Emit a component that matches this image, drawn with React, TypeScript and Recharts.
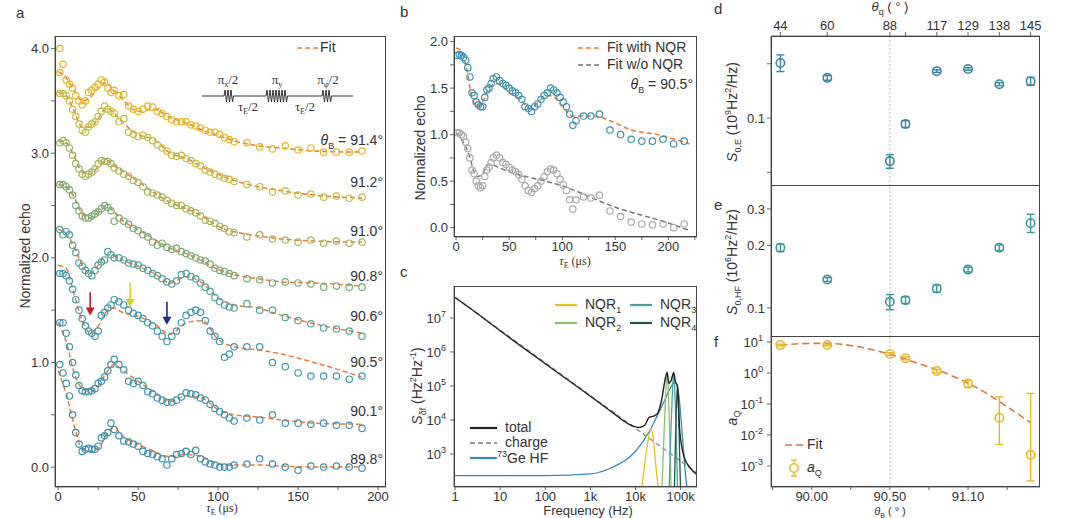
import React from 'react';
import { ComposedChart, Scatter, Line, XAxis, YAxis, ReferenceLine, ReferenceDot, ErrorBar } from 'recharts';

// ---------- Panel a ----------
const TA = [1,3,5,7,9,11,13,15,17,19,21,23,25,27,29,31,33,35,38,41,44,47,50,53,56,59,62,65,68,71,74,77,80,83,86,89,92,95,98,101,104,107,110,118,126,134,142,150,158,166,174,182,190];
const a914 = [3.77,3.85,3.7,3.66,3.62,3.55,3.5,3.46,3.5,3.58,3.6,3.63,3.66,3.7,3.68,3.62,3.58,3.6,3.55,3.56,3.45,3.42,3.4,3.42,3.45,3.44,3.4,3.38,3.35,3.32,3.3,3.3,3.3,3.27,3.26,3.24,3.22,3.2,3.2,3.18,3.15,3.13,3.11,3.1,3.06,3.04,3.07,3.03,3.05,3.01,3.01,3.01,3.02];
const a912 = [3.57,3.57,3.55,3.5,3.42,3.35,3.28,3.22,3.2,3.25,3.28,3.3,3.35,3.4,3.45,3.42,3.4,3.38,3.3,3.33,3.2,3.18,3.16,3.17,3.15,3.12,3.08,3.05,3.02,2.98,2.97,2.98,2.95,2.93,2.9,2.88,2.84,2.82,2.8,2.78,2.76,2.75,2.73,2.7,2.68,2.63,2.64,2.6,2.61,2.58,2.59,2.57,2.58];
const a910 = [3.1,3.12,3.1,3.05,2.98,2.9,2.85,2.8,2.78,2.8,2.82,2.85,2.9,2.93,2.92,2.92,2.9,2.86,2.83,2.8,2.78,2.74,2.72,2.68,2.63,2.62,2.6,2.58,2.55,2.52,2.5,2.5,2.47,2.45,2.43,2.4,2.36,2.35,2.33,2.3,2.28,2.25,2.24,2.2,2.22,2.18,2.17,2.15,2.17,2.14,2.16,2.14,2.15];
const a908 = [2.7,2.7,2.68,2.65,2.6,2.5,2.45,2.4,2.38,2.38,2.4,2.42,2.44,2.47,2.5,2.48,2.45,2.35,2.38,2.35,2.32,2.28,2.26,2.22,2.2,2.15,2.12,2.14,2.1,2.08,2.09,2.06,2.04,2.02,2.0,1.98,1.97,1.94,1.9,1.88,1.87,1.85,1.83,1.8,1.79,1.76,1.77,1.76,1.75,1.72,1.73,1.72,1.72];
const a906 = [2.27,2.22,2.25,2.22,2.12,2.05,1.95,1.92,1.88,1.85,1.83,1.88,1.93,1.96,1.98,2.06,2.03,2.0,2.0,1.98,1.95,1.94,1.93,1.9,1.88,1.85,1.83,1.8,1.77,1.75,1.78,1.84,1.85,1.82,1.8,1.76,1.72,1.68,1.62,1.58,1.55,1.53,1.52,1.56,1.5,1.5,1.43,1.4,1.37,1.33,1.32,1.3,1.25];
const a905 = [1.85,1.85,1.83,1.78,1.7,1.6,1.5,1.42,1.35,1.3,1.28,1.25,1.3,1.45,1.48,1.52,1.55,1.6,1.58,1.55,1.5,1.47,1.45,1.42,1.38,1.35,1.3,1.25,1.2,1.25,1.3,1.38,1.45,1.48,1.5,1.48,1.4,1.3,1.25,1.2,1.05,1.08,1.15,1.15,1.15,1.0,0.96,0.9,0.87,0.87,0.87,0.84,0.87];
const a901 = [1.38,1.38,1.28,1.15,1.0,0.88,0.78,0.73,0.72,0.72,0.73,0.75,0.8,0.82,0.86,0.92,0.98,1.03,0.98,0.93,0.82,0.8,0.82,0.78,0.72,0.7,0.66,0.64,0.62,0.62,0.64,0.67,0.71,0.7,0.69,0.66,0.64,0.6,0.56,0.53,0.5,0.47,0.44,0.47,0.45,0.5,0.42,0.42,0.41,0.42,0.4,0.4,0.37];
const a898 = [0.98,0.9,0.8,0.68,0.5,0.33,0.22,0.15,0.17,0.18,0.17,0.17,0.2,0.28,0.3,0.33,0.42,0.36,0.3,0.25,0.24,0.22,0.2,0.15,0.13,0.12,0.1,0.08,0.02,0.08,0.12,0.13,0.15,0.12,0.16,0.08,0.05,0.03,0.02,0.0,0.0,0.0,0.02,0.03,0.08,0.03,0.0,-0.03,0.01,0.0,0.01,0.0,-0.01];
const TF = [0,5,10,15,20,25,30,35,40,50,60,70,80,90,100,110,125,140,160,190];
const f914 = [3.78,3.72,3.6,3.5,3.53,3.62,3.67,3.6,3.52,3.4,3.42,3.34,3.29,3.22,3.17,3.12,3.07,3.05,3.02,3.01];
const f912 = [3.58,3.55,3.4,3.25,3.25,3.33,3.43,3.38,3.3,3.18,3.13,3.0,2.95,2.87,2.8,2.74,2.68,2.64,2.6,2.57];
const f910 = [3.12,3.1,2.97,2.82,2.8,2.87,2.93,2.88,2.83,2.73,2.62,2.53,2.47,2.4,2.3,2.25,2.21,2.18,2.16,2.15];
const f908 = [2.7,2.68,2.58,2.42,2.38,2.43,2.49,2.44,2.36,2.27,2.18,2.09,2.04,1.97,1.89,1.84,1.8,1.77,1.76,1.73];
const f906 = [2.27,2.23,2.1,1.93,1.85,1.93,2.03,2.02,1.98,1.92,1.85,1.76,1.82,1.76,1.62,1.55,1.52,1.45,1.37,1.28];
const f905 = [1.93,1.9,1.65,1.4,1.28,1.35,1.48,1.52,1.48,1.44,1.37,1.27,1.38,1.4,1.22,1.15,1.12,1.08,1.0,0.86];
const f901 = [1.38,1.2,0.9,0.75,0.72,0.78,0.9,0.98,0.93,0.82,0.72,0.63,0.68,0.66,0.55,0.5,0.48,0.45,0.42,0.41];
const f898 = [0.92,0.7,0.4,0.17,0.15,0.18,0.3,0.38,0.3,0.22,0.15,0.1,0.12,0.1,0.03,0.02,0.02,0.01,0.0,0.0];
const traceLabels = ['θB = 91.4°','91.2°','91.0°','90.8°','90.6°','90.5°','90.1°','89.8°'];
const traceColors = ['#e8b620','#c4bd42','#a2b75c','#7aab76','#4fa39c','#3f9ab0','#3d95b0','#3d92b0'];

// ---------- Panel b ----------
const TB = [1,3,5,7,9,11,13,15,17,19,21,23,25,27,29,31,33,35,38,41,44,47,50,53,56,59,62,65,68,71,74,77,80,83,86,89,92,95,98,101,104,107,110,113,120,127,135,145,155,165,175,185,195,205,215];
const bBlue = [1.85,1.86,1.85,1.83,1.8,1.72,1.62,1.45,1.42,1.35,1.32,1.3,1.3,1.4,1.48,1.5,1.55,1.6,1.62,1.58,1.55,1.53,1.5,1.47,1.45,1.42,1.38,1.3,1.28,1.25,1.3,1.33,1.38,1.42,1.45,1.5,1.48,1.45,1.4,1.35,1.3,1.22,1.1,1.15,1.2,1.2,1.22,1.05,1.0,0.95,0.93,0.93,0.95,0.9,0.93];
const bGray = [1.02,1.02,1.0,0.98,0.92,0.85,0.75,0.62,0.58,0.5,0.45,0.43,0.45,0.55,0.62,0.65,0.7,0.75,0.78,0.75,0.7,0.68,0.65,0.62,0.6,0.57,0.52,0.45,0.4,0.38,0.42,0.45,0.5,0.55,0.6,0.63,0.62,0.58,0.52,0.46,0.4,0.3,0.2,0.3,0.33,0.32,0.35,0.18,0.12,0.06,0.04,0.03,0.04,0.0,0.04];
const TBF = [0,5,10,15,20,25,30,38,50,60,70,80,90,100,110,120,130,145,165,190,220];
const bFitNQR = [1.93,1.9,1.7,1.4,1.3,1.35,1.48,1.55,1.45,1.38,1.28,1.38,1.42,1.3,1.2,1.2,1.2,1.15,1.05,1.0,0.9];
const TBG = [0,10,20,25,30,50,100,150,200,220];
const bFitNo = [1.02,0.85,0.55,0.58,0.68,0.6,0.45,0.22,0.05,-0.03];

// ---------- Panel c ----------
const cTotalF = [1,3,10,100,1000,3000,8000,12000,16000,20000,25000,30000,38000,45000,50000,55000,62000,70000,77000,85000,95000,120000,160000,230000];
const cTotalV = [4e7,1.4e7,4.2e6,4.5e5,5e4,1.7e4,7e3,6e3,7e3,1.2e4,1.3e4,1.5e4,4e4,1.5e5,2.5e5,1.2e5,1.5e5,2.5e5,1.3e5,1e5,5e3,800,400,250];
const cChargeF = [1,10,100,1000,10000,100000,230000];
const cChargeV = [4e7,4.4e6,4.8e5,5.2e4,5.7e3,620,280];
const cHfF = [1,100,1000,3000,10000,20000,30000,45000,60000,75000,90000,110000,130000,145000];
const cHfV = [230,232,260,400,1200,4500,1.3e4,4e4,9e4,1.3e5,6e4,3e3,200,60];
const nq1F = [13000,16000,19000,22000,25000,28000,33000];
const nq1V = [60,500,2500,5500,2500,500,60];
const nq2F = [38000,42000,46000,50000,54000,58000,62000];
const nq2V = [60,2000,4e4,2.5e5,4e4,2000,60];
const nq3F = [55000,60000,65000,70000,75000,80000,86000];
const nq3V = [60,3e3,5e4,2.5e5,5e4,3e3,60];
const nq4F = [72000,77000,81000,85000,89000,93000,100000];
const nq4V = [60,3e3,3e4,1e5,3e4,3e3,60];

// ---------- Panels d, e, f ----------
const thetaB = [89.8,90.1,90.5,90.6,90.8,91.0,91.2,91.4];
const thetaQ = ['44','60','88','','117','129','138','145'];
const sE = [0.202,0.167,0.0577,0.0926,0.182,0.187,0.154,0.16];
const sEerr = [[0.021,0.022],[0.005,0.005],[0.005,0.005],[0.004,0.004],[0.003,0.003],[0.003,0.003],[0.003,0.003],[0.008,0.008]];
const sHF = [0.195,0.137,0.107,0.109,0.124,0.153,0.195,0.256];
const sHFerr = [[0.008,0.008],[0.003,0.003],[0.009,0.009],[0.004,0.004],[0.005,0.005],[0.004,0.004],[0.006,0.006],[0.025,0.027]];
const aQ = [8,8,4.1,3.0,1.16,0.46,0.036,0.0023];
const aQerr = [[0.5,0.5],[0.5,0.5],[0.4,0.4],[0.3,0.3],[0.15,0.15],[0.12,0.12],[0.031,0.134],[0.00197,0.218]];
const fitB = [89.8,90.0,90.1,90.3,90.5,90.7,90.9,91.1,91.2,91.3,91.4];
const fitA = [8,9,9,7,4,1.9,0.8,0.25,0.12,0.055,0.025];

const pairs = (ts: number[], vs: number[]) => ts.map((t, i) => ({ t, v: vs[i] })).filter(d => d.v !== undefined);
const W = 1080, H = 518;
const FONT = '"Liberation Sans", Arial, sans-serif';
const SERIF = '"Liberation Serif", serif';
const ORANGE = '#f07a2a';
const tickStyle = { fontSize: 13, fill: '#333', fontFamily: FONT };

const ring = (color: string, r: number, sw = 1.2) => (p: any) =>
  p.cx == null ? <g /> : <circle cx={p.cx} cy={p.cy} r={r} fill="none" stroke={color} strokeWidth={sw} />;
const tri = (color: string) => (p: any) =>
  <path d={`M${p.cx - 4.5},${p.cy - 8} L${p.cx + 4.5},${p.cy - 8} L${p.cx},${p.cy} Z`} fill={color} />;

const PowTick = (p: any) => {
  const e = Math.round(Math.log10(p.payload.value));
  return (
    <text x={p.x - 2} y={p.y + 5} textAnchor="end" style={tickStyle}>
      10<tspan dy={-6} fontSize={9}>{e}</tspan>
    </text>
  );
};

const margin = (l: number, t: number, r: number, b: number, yw: number, xh: number, xTop = 0) =>
  ({ left: l - yw, top: t - xTop, right: W - r, bottom: H - b - xh });

const abs = (x: number, y: number, extra: any = {}) =>
  ({ position: 'absolute' as const, left: x, top: y, fontFamily: FONT, fontSize: 13, color: '#333', whiteSpace: 'nowrap' as const, ...extra });

const Frame = ({ l, t, r, b }: any) =>
  <div style={{ position: 'absolute', left: l, top: t, width: r - l, height: b - t, border: '1.3px solid #444', boxSizing: 'border-box' }} />;

const Layer = ({ children }: any) => <div style={{ position: 'absolute', left: 0, top: 0 }}>{children}</div>;

const VLabel = ({ x, y, children }: any) =>
  <div style={abs(x, y, { transform: 'translate(-50%,-50%) rotate(-90deg)', fontSize: 14 })}>{children}</div>;

const LegLine = ({ x, y, color, dash, w = 22, sw = 1.6 }: any) =>
  <svg style={{ position: 'absolute', left: x, top: y - 3 }} width={w} height={6}>
    <line x1={0} y1={3} x2={w} y2={3} stroke={color} strokeWidth={sw} strokeDasharray={dash} />
  </svg>;

export default function App() {
  const aSeries = [a914, a912, a910, a908, a906, a905, a901, a898];
  const aFits = [f914, f912, f910, f908, f906, f905, f901, f898];
  const labelY = [141, 183, 232, 277, 317, 363, 412, 460];
  const dPts = thetaB.map((x, i) => ({ t: x, v: sE[i], e: sEerr[i] }));
  const ePts = thetaB.map((x, i) => ({ t: x, v: sHF[i], e: sHFerr[i] }));
  const fPts = thetaB.map((x, i) => ({ t: x, v: aQ[i], e: aQerr[i] }));
  const wig = (n: number) => 'l1,-6 ' + 'l1.5,12 l1.5,-12 '.repeat(n) + 'l1.5,12 l1,-6';
  return (
    <div style={{ position: 'absolute', left: 0, top: 0, width: W, height: H, background: '#fff', overflow: 'hidden', fontFamily: FONT }}>
      {/* ---- a ---- */}
      <Layer>
        <ComposedChart width={W} height={H} margin={margin(55, 36, 386, 487, 40, 16)}>
          <XAxis dataKey="t" type="number" domain={[-2, 205]} ticks={[0, 25, 50, 75, 100, 125, 150, 175, 200]}
            tickFormatter={(v: number) => (v % 50 === 0 ? String(v) : '')} tick={tickStyle} tickSize={3} height={16} allowDataOverflow />
          <YAxis type="number" domain={[-0.19, 4.12]} ticks={[0, 0.5, 1, 1.5, 2, 2.5, 3, 3.5, 4]}
            tickFormatter={(v: number) => (Number.isInteger(v) ? v.toFixed(1) : '')} tick={tickStyle} tickSize={4} width={40} allowDataOverflow />
          {aFits.map((f, i) => (
            <Line key={'f' + i} data={pairs(TF, f)} dataKey="v" type="monotone" stroke={ORANGE} strokeWidth={1.5}
              strokeDasharray="5 3" dot={false} isAnimationActive={false} />
          ))}
          {aSeries.map((s, i) => (
            <Scatter key={'s' + i} data={pairs(TA, s)} dataKey="v" shape={ring(traceColors[i], 3.2)} isAnimationActive={false} />
          ))}
          <Scatter data={[{ t: 1, v: 4.0 }]} dataKey="v" shape={ring(traceColors[0], 3.2)} isAnimationActive={false} />
          <ReferenceLine segment={[{ x: 20, y: 1.67 }, { x: 20, y: 1.5 }]} stroke="#c0202a" strokeWidth={1.6} />
          <ReferenceDot x={20} y={1.45} shape={tri('#c0202a')} />
          <ReferenceLine segment={[{ x: 45, y: 1.76 }, { x: 45, y: 1.58 }]} stroke="#d8d020" strokeWidth={1.6} />
          <ReferenceDot x={45} y={1.53} shape={tri('#d8d020')} />
          <ReferenceLine segment={[{ x: 68, y: 1.58 }, { x: 68, y: 1.41 }]} stroke="#1a2a8a" strokeWidth={1.6} />
          <ReferenceDot x={68} y={1.36} shape={tri('#1a2a8a')} />
        </ComposedChart>
      </Layer>
      <Frame l={55} t={36} r={386} b={487} />
      <div style={abs(16, 4, { fontSize: 15 })}>a</div>
      <VLabel x={25} y={256}>Normalized echo</VLabel>
      <div style={abs(222, 502, { transform: 'translateX(-50%)', fontFamily: SERIF, fontSize: 12, lineHeight: '13px' })}>
        <i>τ</i><sub style={{ fontSize: 8 }}>E</sub> (μs)
      </div>
      <LegLine x={297} y={48} color={ORANGE} dash="5 3" w={26} />
      <div style={abs(320, 39, { fontSize: 14 })}>Fit</div>
      {traceLabels.map((t, i) => (
        <div key={t} style={abs(383, labelY[i] - 9, { transform: 'translateX(-100%)', fontSize: 14 })}>
          {i === 0 ? <span><i>θ</i><sub style={{ fontSize: 9 }}>B</sub> = 91.4°</span> : t}
        </div>
      ))}
      <svg style={{ position: 'absolute', left: 0, top: 0 }} width={W} height={H}>
        <path d={`M202,96 H224 ${wig(2)} H266 ${wig(6)} H322 ${wig(2)} H353`} fill="none" stroke="#333" strokeWidth={1} />
        <g fontFamily={SERIF} fontSize={13} fill="#333">
          <text x={228} y={84} textAnchor="middle">π<tspan fontSize={8} dy={3}>x</tspan><tspan dy={-3}>/2</tspan></text>
          <text x={277} y={84} textAnchor="middle">π<tspan fontSize={8} dy={3}>y</tspan></text>
          <text x={328} y={84} textAnchor="middle">π<tspan fontSize={8} dy={3}>φ</tspan><tspan dy={-3}>/2</tspan></text>
          <text x={248} y={111} textAnchor="middle">τ<tspan fontSize={8} dy={3}>E</tspan><tspan dy={-3}>/2</tspan></text>
          <text x={305} y={111} textAnchor="middle">τ<tspan fontSize={8} dy={3}>E</tspan><tspan dy={-3}>/2</tspan></text>
        </g>
      </svg>

      {/* ---- b ---- */}
      <Layer>
        <ComposedChart width={W} height={H} margin={margin(454, 36, 697, 237, 34, 16)}>
          <XAxis dataKey="t" type="number" domain={[-2, 227]} ticks={[0, 25, 50, 75, 100, 125, 150, 175, 200, 225]}
            tickFormatter={(v: number) => (v % 50 === 0 ? String(v) : '')} tick={tickStyle} tickSize={3} height={16} allowDataOverflow />
          <YAxis type="number" domain={[-0.1, 2.06]} ticks={[0, 0.25, 0.5, 0.75, 1, 1.25, 1.5, 1.75, 2]}
            tickFormatter={(v: number) => ((v * 2) % 1 === 0 ? v.toFixed(1) : '')} tick={tickStyle} tickSize={4} width={34} allowDataOverflow />
          <Line data={pairs(TBF, bFitNQR)} dataKey="v" type="monotone" stroke={ORANGE} strokeWidth={1.5} strokeDasharray="5 3" dot={false} isAnimationActive={false} />
          <Line data={pairs(TBG, bFitNo)} dataKey="v" type="monotone" stroke="#777" strokeWidth={1.5} strokeDasharray="5 3" dot={false} isAnimationActive={false} />
          <Scatter data={pairs(TB, bBlue)} dataKey="v" shape={ring('#3d92b0', 3.2)} isAnimationActive={false} />
          <Scatter data={pairs(TB, bGray)} dataKey="v" shape={ring('#aaaaaa', 3.2)} isAnimationActive={false} />
        </ComposedChart>
      </Layer>
      <Frame l={454} t={36} r={697} b={237} />
      <div style={abs(400, 3, { fontSize: 15 })}>b</div>
      <VLabel x={420} y={148}>Normalized echo</VLabel>
      <div style={abs(575, 255, { transform: 'translateX(-50%)', fontFamily: SERIF, fontSize: 12, lineHeight: '13px' })}>
        <i>τ</i><sub style={{ fontSize: 8 }}>E</sub> (μs)
      </div>
      <LegLine x={578} y={48} color={ORANGE} dash="5 3" w={24} />
      <div style={abs(607, 39, { fontSize: 14 })}>Fit with NQR</div>
      <LegLine x={578} y={65} color="#777" dash="5 3" w={24} />
      <div style={abs(607, 56, { fontSize: 14 })}>Fit w/o NQR</div>
      <div style={abs(693, 76, { transform: 'translateX(-100%)', fontSize: 14 })}><i>θ</i><sub style={{ fontSize: 9 }}>B</sub> = 90.5°</div>

      {/* ---- c ---- */}
      <Layer>
        <ComposedChart width={W} height={H} margin={margin(454, 286, 697, 487, 34, 16)}>
          <XAxis dataKey="f" type="number" scale="log" domain={[0.95, 230000]} ticks={[1, 10, 100, 1000, 10000, 100000]}
            tickFormatter={(v: number) => (v >= 1000 ? v / 1000 + 'k' : String(v))} tick={tickStyle} tickSize={3} height={16} allowDataOverflow />
          <YAxis type="number" scale="log" domain={[107, 8.7e7]} ticks={[1e3, 1e4, 1e5, 1e6, 1e7]} tick={<PowTick />} tickSize={4} width={34} allowDataOverflow />
          <Line data={cChargeF.map((f, i) => ({ f, v: cChargeV[i] }))} dataKey="v" type="monotone" stroke="#999" strokeWidth={1.5} strokeDasharray="5 3" dot={false} isAnimationActive={false} />
          <Line data={cHfF.map((f, i) => ({ f, v: cHfV[i] }))} dataKey="v" type="monotone" stroke="#3a8ab8" strokeWidth={1.3} dot={false} isAnimationActive={false} />
          <Line data={nq1F.map((f, i) => ({ f, v: nq1V[i] }))} dataKey="v" type="monotone" stroke="#e8c020" strokeWidth={1.3} dot={false} isAnimationActive={false} />
          <Line data={nq2F.map((f, i) => ({ f, v: nq2V[i] }))} dataKey="v" type="monotone" stroke="#8cc070" strokeWidth={1.3} dot={false} isAnimationActive={false} />
          <Line data={nq3F.map((f, i) => ({ f, v: nq3V[i] }))} dataKey="v" type="monotone" stroke="#4aa0a0" strokeWidth={1.3} dot={false} isAnimationActive={false} />
          <Line data={nq4F.map((f, i) => ({ f, v: nq4V[i] }))} dataKey="v" type="monotone" stroke="#1f5a48" strokeWidth={1.3} dot={false} isAnimationActive={false} />
          <Line data={cTotalF.map((f, i) => ({ f, v: cTotalV[i] }))} dataKey="v" type="monotone" stroke="#222" strokeWidth={1.4} dot={false} isAnimationActive={false} />
        </ComposedChart>
      </Layer>
      <Frame l={454} t={286} r={697} b={487} />
      <div style={abs(400, 263, { fontSize: 15 })}>c</div>
      <VLabel x={418} y={386}><i>S</i><sub style={{ fontSize: 9 }}>δf</sub> (Hz<sup style={{ fontSize: 9 }}>2</sup>Hz<sup style={{ fontSize: 9 }}>-1</sup>)</VLabel>
      <div style={abs(588, 503, { transform: 'translateX(-50%)', fontSize: 13, lineHeight: '15px' })}>Frequency (Hz)</div>
      <LegLine x={555} y={305} color="#e8c020" w={22} sw={2.2} />
      <div style={abs(585, 296, { fontSize: 14 })}>NQR<sub style={{ fontSize: 9 }}>1</sub></div>
      <LegLine x={555} y={323} color="#8cc070" w={22} sw={2.2} />
      <div style={abs(585, 314, { fontSize: 14 })}>NQR<sub style={{ fontSize: 9 }}>2</sub></div>
      <LegLine x={630} y={305} color="#4aa0a0" w={22} sw={2.2} />
      <div style={abs(660, 296, { fontSize: 14 })}>NQR<sub style={{ fontSize: 9 }}>3</sub></div>
      <LegLine x={630} y={323} color="#1f5a48" w={22} sw={2.2} />
      <div style={abs(660, 314, { fontSize: 14 })}>NQR<sub style={{ fontSize: 9 }}>4</sub></div>
      <LegLine x={470} y={428} color="#222" w={27} sw={2.2} />
      <div style={abs(505, 419, { fontSize: 14 })}>total</div>
      <LegLine x={470} y={443} color="#999" dash="5 3" w={27} sw={2} />
      <div style={abs(505, 434, { fontSize: 14 })}>charge</div>
      <LegLine x={470} y={458} color="#3a8ab8" w={27} sw={2.2} />
      <div style={abs(497, 449, { fontSize: 14 })}><sup style={{ fontSize: 9 }}>73</sup>Ge HF</div>

      {/* ---- d ---- */}
      <Layer>
        <ComposedChart width={W} height={H} margin={margin(771, 36, 1040, 186, 40, 0, 22)}>
          <XAxis dataKey="t" type="number" orientation="top" domain={[89.74, 91.46]} ticks={thetaB}
            tickFormatter={(v: number) => thetaQ[thetaB.indexOf(v)] ?? ''} tick={tickStyle} tickSize={4} height={22} allowDataOverflow />
          <YAxis type="number" scale="log" domain={[0.042, 0.285]} ticks={[0.05, 0.1, 0.2]}
            tickFormatter={(v: number) => (v === 0.1 ? '0.1' : '')} tick={tickStyle} tickSize={4} width={40} allowDataOverflow />
          <ReferenceLine x={90.5} stroke="#bbb" strokeDasharray="2 2" />
          <Scatter data={dPts} dataKey="v" shape={ring('#3a86a6', 4.2, 1.6)} isAnimationActive={false}>
            <ErrorBar dataKey="e" direction="y" width={4} stroke="#3a86a6" strokeWidth={1.4} />
          </Scatter>
        </ComposedChart>
      </Layer>
      {/* ---- e ---- */}
      <Layer>
        <ComposedChart width={W} height={H} margin={margin(771, 186, 1040, 337, 40, 0)}>
          <XAxis dataKey="t" type="number" domain={[89.74, 91.46]} hide allowDataOverflow />
          <YAxis type="number" scale="log" domain={[0.0724, 0.387]} ticks={[0.1, 0.2, 0.3]}
            tickFormatter={(v: number) => v.toFixed(1)} tick={tickStyle} tickSize={4} width={40} allowDataOverflow />
          <ReferenceLine x={90.5} stroke="#bbb" strokeDasharray="2 2" />
          <Scatter data={ePts} dataKey="v" shape={ring('#3a9a9a', 4.2, 1.6)} isAnimationActive={false}>
            <ErrorBar dataKey="e" direction="y" width={4} stroke="#3a9a9a" strokeWidth={1.4} />
          </Scatter>
        </ComposedChart>
      </Layer>
      {/* ---- f ---- */}
      <Layer>
        <ComposedChart width={W} height={H} margin={margin(771, 337, 1040, 487, 40, 16)}>
          <XAxis dataKey="t" type="number" domain={[89.74, 91.46]} ticks={[89.75, 90.0, 90.25, 90.5, 90.75, 91.0, 91.25]}
            tickFormatter={(v: number) => (v === 90 ? '90.00' : v === 90.5 ? '90.50' : v === 91 ? '91.10' : '')}
            tick={tickStyle} tickSize={3} height={16} allowDataOverflow />
          <YAxis type="number" scale="log" domain={[2.1e-4, 14.5]} ticks={[1e-3, 1e-2, 1e-1, 1, 10]} tick={<PowTick />} tickSize={4} width={40} allowDataOverflow />
          <ReferenceLine x={90.5} stroke="#bbb" strokeDasharray="2 2" />
          <Line data={pairs(fitB, fitA)} dataKey="v" type="monotone" stroke="#e0783a" strokeWidth={1.6} strokeDasharray="7 4" dot={false} isAnimationActive={false} />
          <Scatter data={fPts} dataKey="v" shape={ring('#e8b923', 4.2, 1.6)} isAnimationActive={false}>
            <ErrorBar dataKey="e" direction="y" width={4} stroke="#e8b923" strokeWidth={1.4} />
          </Scatter>
        </ComposedChart>
      </Layer>
      <Frame l={771} t={36} r={1040} b={487} />
      <div style={{ position: 'absolute', left: 771, top: 185, width: 269, height: 0, borderTop: '1.3px solid #444' }} />
      <div style={{ position: 'absolute', left: 771, top: 336, width: 269, height: 0, borderTop: '1.3px solid #444' }} />
      <div style={abs(714, 0, { fontSize: 15 })}>d</div>
      <div style={abs(714, 196, { fontSize: 15 })}>e</div>
      <div style={abs(714, 333, { fontSize: 15 })}>f</div>
      <div style={abs(890, -1, { transform: 'translateX(-50%)', fontSize: 13 })}><i>θ</i><sub style={{ fontSize: 9 }}>q</sub> ( ° )</div>
      <VLabel x={733} y={112}><i>S</i><sub style={{ fontSize: 9 }}>0,E</sub> (10<sup style={{ fontSize: 9 }}>9</sup>Hz<sup style={{ fontSize: 9 }}>2</sup>/Hz)</VLabel>
      <VLabel x={733} y={262}><i>S</i><sub style={{ fontSize: 9 }}>0,HF</sub> (10<sup style={{ fontSize: 9 }}>6</sup>Hz<sup style={{ fontSize: 9 }}>2</sup>/Hz)</VLabel>
      <VLabel x={733} y={418}><i>a</i><sub style={{ fontSize: 9 }}>Q</sub></VLabel>
      <div style={abs(890, 505, { transform: 'translateX(-50%)', fontSize: 11, lineHeight: '12px' })}><i>θ</i><sub style={{ fontSize: 7 }}>B</sub> ( ° )</div>
      <LegLine x={785} y={445} color="#e0783a" dash="7 4" w={18} />
      <div style={abs(807, 436, { fontSize: 14 })}>Fit</div>
      <svg style={{ position: 'absolute', left: 786, top: 458 }} width={16} height={20}>
        <line x1={8} y1={2} x2={8} y2={18} stroke="#e8b923" strokeWidth={1.4} />
        <line x1={5} y1={2} x2={11} y2={2} stroke="#e8b923" strokeWidth={1.4} />
        <line x1={5} y1={18} x2={11} y2={18} stroke="#e8b923" strokeWidth={1.4} />
        <circle cx={8} cy={10} r={4.2} fill="#fff" stroke="#e8b923" strokeWidth={1.6} />
      </svg>
      <div style={abs(807, 459, { fontSize: 14 })}><i>a</i><sub style={{ fontSize: 9 }}>Q</sub></div>
    </div>
  );
}
